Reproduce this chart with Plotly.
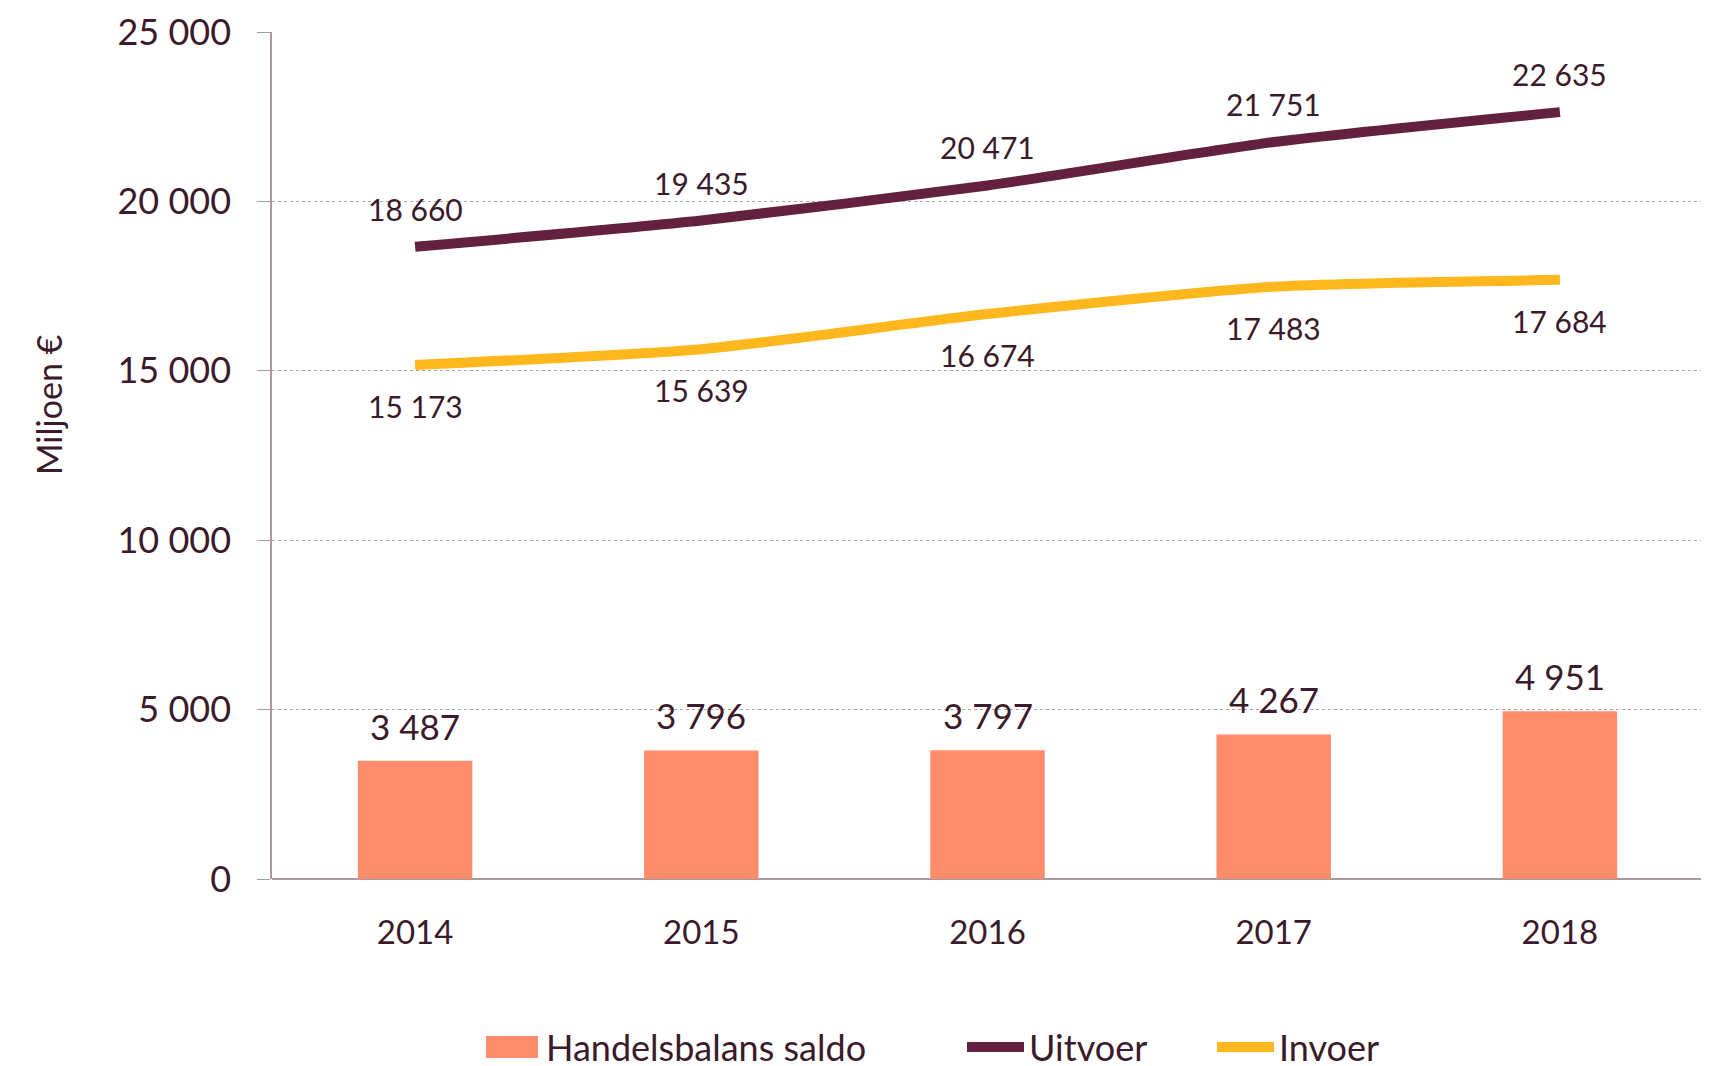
import plotly.graph_objects as go

jaren = ['2014', '2015', '2016', '2017', '2018']
saldo = [3487, 3796, 3797, 4267, 4951]
uitvoer = [18660, 19435, 20471, 21751, 22635]
invoer = [15173, 15639, 16674, 17483, 17684]

reeksen = ['Handelsbalans saldo', 'Uitvoer', 'Invoer']
kleuren = ['#ff8d6b', '#64203f', '#ffb71e']

tekstkleur = '#3b1a2b'
lettertype = 'Lato'

# marges (pagina heeft 8px body-marge)
L, R, T, B = 264, 14, 24, 195
W, H = 1709, 1066
pw, ph = W - L - R, H - T - B


def px(x):
    # schermpixel -> paper-x
    return (x - 8 - L) / pw


def py(y):
    return (H - B + 8 - y) / ph


def fmt(v):
    # duizendtallen met spatie
    return f'{v:,}'.replace(',', ' ')


fig = go.Figure()

fig.add_trace(go.Bar(
    x=jaren, y=saldo, name=reeksen[0],
    marker=dict(color=kleuren[0], line=dict(width=0)),
    width=0.4
))

fig.add_trace(go.Scatter(
    x=jaren, y=uitvoer, name=reeksen[1], mode='lines',
    line=dict(color=kleuren[1], width=10, shape='spline', smoothing=0.6)
))

fig.add_trace(go.Scatter(
    x=jaren, y=invoer, name=reeksen[2], mode='lines',
    line=dict(color=kleuren[2], width=10, shape='spline', smoothing=0.6)
))

# labels bij de staven en lijnen (x als categorie-index)
for i, v in enumerate(saldo):
    fig.add_annotation(x=i, y=v, xref='x', yref='y', text=fmt(v), showarrow=False,
                       yshift=35, font=dict(size=35, color=tekstkleur))
for i, v in enumerate(uitvoer):
    fig.add_annotation(x=i, y=v, xref='x', yref='y', text=fmt(v), showarrow=False,
                       yshift=38, font=dict(size=30, color=tekstkleur))
for i, v in enumerate(invoer):
    fig.add_annotation(x=i, y=v, xref='x', yref='y', text=fmt(v), showarrow=False,
                       yshift=-41, font=dict(size=30, color=tekstkleur))

# as-titel
fig.add_annotation(x=px(49), y=py(405), xref='paper', yref='paper',
                   xanchor='center', yanchor='middle',
                   text='Miljoen €', textangle=-90, showarrow=False,
                   font=dict(size=34, color=tekstkleur))

# legenda met de hand (groot vierkant en dikke lijnen)
ly = 1047
fig.add_shape(type='rect', xref='paper', yref='paper',
              x0=px(486), x1=px(538), y0=py(1058), y1=py(1036),
              fillcolor=kleuren[0], line=dict(width=0))
fig.add_shape(type='line', xref='paper', yref='paper',
              x0=px(967), x1=px(1024), y0=py(ly), y1=py(ly),
              line=dict(color=kleuren[1], width=10))
fig.add_shape(type='line', xref='paper', yref='paper',
              x0=px(1217), x1=px(1274), y0=py(ly), y1=py(ly),
              line=dict(color=kleuren[2], width=10))
for naam, x0 in zip(reeksen, [544, 1027, 1277]):
    fig.add_annotation(x=px(x0), y=py(ly), xref='paper', yref='paper',
                       text=naam, showarrow=False, xanchor='left', yanchor='middle',
                       font=dict(size=36, color=tekstkleur))

fig.update_layout(
    width=W, height=H,
    margin=dict(l=L, r=R, t=T, b=B, autoexpand=False),
    plot_bgcolor='white', paper_bgcolor='white',
    font=dict(family=lettertype, color=tekstkleur),
    separators=', ',
    showlegend=False,
    xaxis=dict(type='category', range=[-0.5, 4.5], showgrid=False, ticks='',
               tickfont=dict(size=33, color=tekstkleur), ticklabelstandoff=31,
               showline=False, zeroline=False, automargin=False),
    yaxis=dict(range=[0, 25000], dtick=5000, tickformat=',d',
               showgrid=True, gridcolor='#b0a6aa', griddash='dot', gridwidth=1,
               showline=True, linecolor='#a8999f', linewidth=1.5,
               ticks='outside', ticklen=13, tickcolor='#a8999f',
               ticklabelstandoff=19, automargin=False,
               tickfont=dict(size=36, color=tekstkleur),
               zeroline=True, zerolinecolor='#a8999f', zerolinewidth=1.5),
)

fig.write_html('out.html')
